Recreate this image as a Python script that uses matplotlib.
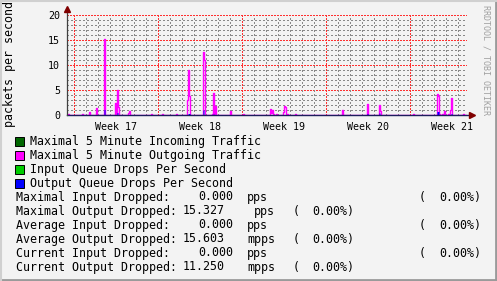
import numpy as np
import matplotlib
matplotlib.use('Agg')
import matplotlib.pyplot as plt
from matplotlib.patches import Rectangle

# hours since start of week 17, 2 hour steps (one pixel column each)
out_hours = [-12, 16, 30, 44, 60, 82, 86, 88, 108, 110, 154, 176, 204,
             226, 228, 230, 258, 260, 276, 278, 282, 312, 338,
             392, 394, 396, 398, 404, 418, 420, 422, 426, 442,
             536, 586, 610, 612, 678, 726, 728, 730, 736, 740, 748, 752, 754, 778]
out_max = [0.3, 0.3, 0.6, 1.4, 15.3, 2.4, 5.0, 1.6, 0.4, 0.8, 0.3, 0.3, 0.3,
           3.0, 9.0, 3.9, 12.7, 11.1, 0.3, 4.5, 1.9, 0.8, 0.3,
           1.3, 0.4, 1.0, 0.3, 0.3, 0.6, 1.8, 1.6, 0.2, 0.3,
           1.1, 2.2, 2.0, 0.8, 0.3, 4.2, 3.8, 0.3, 0.3, 0.8, 0.2, 1.1, 3.5, 0.3]

drop_hours = [60, 86, 228, 230, 258, 278, 586, 610, 726, 728, 754]
out_drops = [1.1, 0.5, 0.3, 0.3, 1.0, 0.2, 0.3, 0.4, 0.7, 0.7, 0.3]

week_labels = ['Week 17', 'Week 18', 'Week 19', 'Week 20', 'Week 21']
y_ticks = [0, 5, 10, 15, 20]

legend_items = [('#006600', 'Maximal 5 Minute Incoming Traffic'),
                ('#ff00ff', 'Maximal 5 Minute Outgoing Traffic'),
                ('#00cc00', 'Input Queue Drops Per Second'),
                ('#0000ff', 'Output Queue Drops Per Second')]

stat_names = ['Maximal Input Dropped:', 'Maximal Output Dropped:',
              'Average Input Dropped:', 'Average Output Dropped:',
              'Current Input Dropped:', 'Current Output Dropped:']
stat_values = ['0.000', '15.327', '0.000', '15.603', '0.000', '11.250']
stat_units = ['pps', 'pps', 'pps', 'mpps', 'pps', 'mpps']
stat_pct = ['0.00%)'] * 6

W, H = 497, 281
BG = '#f3f3f3'
FONT = 'DejaVu Sans Mono'

fig = plt.figure(figsize=(W / 100, H / 100), dpi=100, facecolor=BG)


def fx(x):
    return x / W


def fy(y):
    return 1 - y / H


ax = fig.add_axes([fx(67), fy(115), 400 / W, 100 / H], facecolor=BG)

# build the per-column series (2 h columns, 400 of them)
start_h, end_h = -14, 786
edges = np.arange(start_h, end_h + 2, 2)
out_series = np.zeros(len(edges) - 1)
drop_series = np.zeros(len(edges) - 1)
for h, v in zip(out_hours, out_max):
    out_series[(h - start_h) // 2] = v
for h, v in zip(drop_hours, out_drops):
    drop_series[(h - start_h) // 2] = v
x = edges / 24.0
out_step = np.append(out_series, out_series[-1])
drop_step = np.append(drop_series, drop_series[-1])

x0, x1 = start_h / 24.0, end_h / 24.0
ax.set_xlim(x0, x1)
ax.set_ylim(0, 20)

# grid: red dotted majors, grey dashed minors
for yv in range(1, 21):
    major = yv % 5 == 0
    ax.axhline(yv, color='#ff3030' if major else '#888888', lw=1.0,
               ls=(0, (1, 1)) if major else (0, (1, 2)),
               antialiased=False, zorder=1)
for d in range(0, 33):
    major = d % 7 == 0
    ax.axvline(d, color='#ff3030' if major else '#888888', lw=1.0,
               ls=(0, (1, 1)) if major else (0, (1, 2)),
               antialiased=False, zorder=1)

ax.fill_between(x, 0, drop_step, step='post', color='#0000ff', lw=0, zorder=3)
ax.step(x, out_step, where='post', color='#ff00ff', lw=1.0, zorder=2)

# axes lines and arrows
ax.plot([x0, x1 + 0.35], [0, 0], color='#1c1c5c', lw=1.0, zorder=5, clip_on=False)
ax.plot([x0, x0], [0, 21.0], color='#404040', lw=0.9, zorder=5, clip_on=False)
ax.plot([x1 + 0.45], [0], marker='>', color='#800000', ms=5, zorder=6, clip_on=False)
ax.plot([x0], [21.2], marker='^', color='#800000', ms=5, zorder=6, clip_on=False)

for s in ax.spines.values():
    s.set_visible(False)
ax.set_yticks(y_ticks)
ax.set_yticklabels([str(v) for v in y_ticks], fontfamily=FONT, fontsize=7.2)
ax.set_xticks([3.5 + 7 * i for i in range(len(week_labels))])
ax.set_xticklabels(week_labels, fontfamily=FONT, fontsize=7.2)
ax.tick_params(length=0, pad=5, colors='#000000')

fig.text(fx(10), fy(64), 'packets per second', rotation=90, ha='center', va='center',
         fontfamily=FONT, fontsize=8.4)
fig.text(fx(486), fy(60), 'RRDTOOL / TOBI OETIKER', rotation=270, ha='center', va='center',
         fontfamily=FONT, fontsize=6, color='#a0a0a0')

# legend
for i, (c, label) in enumerate(legend_items):
    yc = 141 + 14 * i
    fig.patches.append(Rectangle((fx(15), fy(yc + 4.5)), 9 / W, 9 / H, transform=fig.transFigure,
                                 facecolor=c, edgecolor='black', lw=0.7))
    fig.text(fx(30), fy(yc), label, ha='left', va='center', fontfamily=FONT, fontsize=8.4)

for i in range(len(stat_names)):
    yc = 197 + 14 * i
    out = 'Output' in stat_names[i]
    fig.text(fx(16), fy(yc), stat_names[i], ha='left', va='center', fontfamily=FONT, fontsize=8.4)
    fig.text(fx(183 if out else 198), fy(yc), stat_values[i], ha='left', va='center',
             fontfamily=FONT, fontsize=8.4)
    ux = 254 if stat_units[i] == 'pps' and out else 247
    fig.text(fx(ux), fy(yc), stat_units[i], ha='left', va='center', fontfamily=FONT, fontsize=8.4)
    fig.text(fx(293 if out else 419), fy(yc), '(', ha='left', va='center', fontfamily=FONT, fontsize=8.4)
    fig.text(fx(312 if out else 439), fy(yc), stat_pct[i], ha='left', va='center',
             fontfamily=FONT, fontsize=8.4)

# frame: lighter top/left, darker bottom/right
fig.add_artist(plt.Line2D([0, 1], [0.002, 0.002], transform=fig.transFigure, color='#9a9a9a', lw=2))
fig.add_artist(plt.Line2D([0.998, 0.998], [0, 1], transform=fig.transFigure, color='#9a9a9a', lw=2))
fig.add_artist(plt.Line2D([0, 1], [0.998, 0.998], transform=fig.transFigure, color='#d0d0d0', lw=1.5))
fig.add_artist(plt.Line2D([0.002, 0.002], [0, 1], transform=fig.transFigure, color='#d0d0d0', lw=1.5))

fig.savefig('out.png', dpi=100, facecolor=BG)
